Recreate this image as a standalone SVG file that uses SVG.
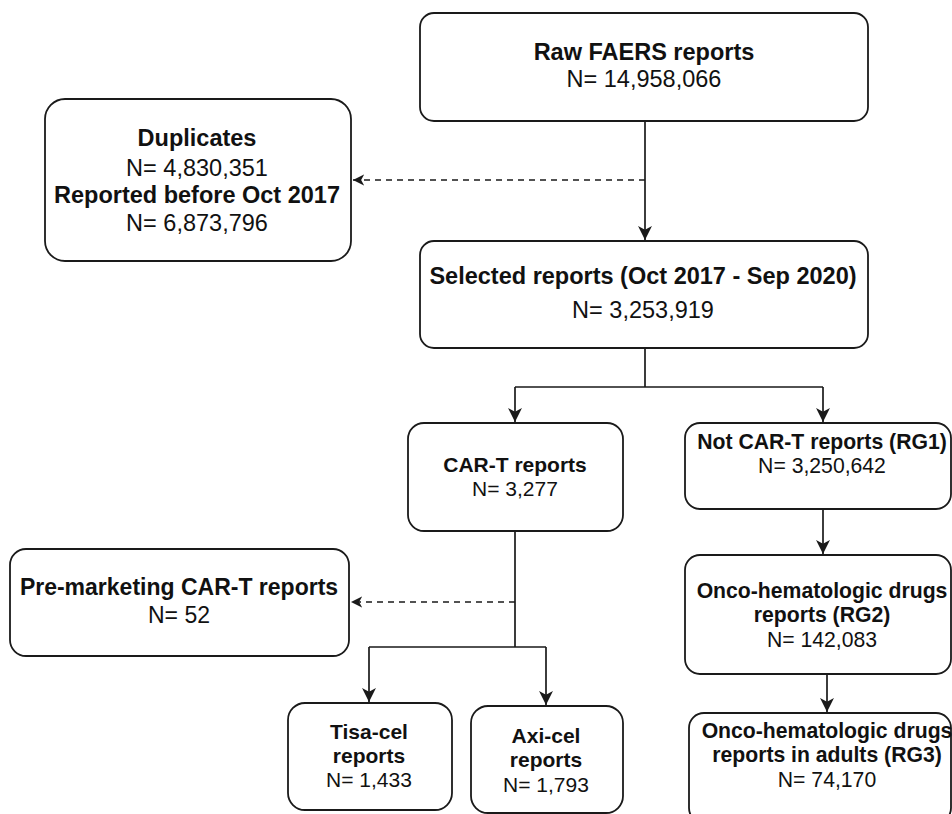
<svg xmlns="http://www.w3.org/2000/svg" width="952" height="814" viewBox="0 0 952 814">
<style>
.box{fill:#ffffff;stroke:#1a1a1a;stroke-width:1.8}
.t{font-family:"Liberation Sans",Arial,Helvetica,sans-serif;fill:#111;text-anchor:middle}
.b{font-weight:bold}
.ln{fill:none;stroke:#1a1a1a;stroke-width:1.7}
.dash{fill:none;stroke:#1a1a1a;stroke-width:1.5;stroke-dasharray:6 5}
</style>
<defs>
<marker id="arr" viewBox="0 0 14 14" refX="13" refY="7" markerWidth="15" markerHeight="15" markerUnits="userSpaceOnUse" orient="auto">
<path d="M0,0.5 L13,7 L0,13.5 L3.5,7 Z" fill="#1a1a1a"/>
</marker>
<marker id="arrs" viewBox="0 0 14 14" refX="13" refY="7" markerWidth="12" markerHeight="12" markerUnits="userSpaceOnUse" orient="auto">
<path d="M0,0.5 L13,7 L0,13.5 L3.5,7 Z" fill="#1a1a1a"/>
</marker>
</defs>
<rect width="952" height="814" fill="#ffffff"/>

<g id="connectors">
<path class="ln" d="M645,121 V240" marker-end="url(#arr)"/>
<path class="dash" d="M645,180 H353" marker-end="url(#arrs)"/>
<path class="ln" d="M645,348 V387 M515,387 H823"/>
<path class="ln" d="M515,387 V422" marker-end="url(#arr)"/>
<path class="ln" d="M823,387 V422" marker-end="url(#arr)"/>
<path class="ln" d="M515,531 V647 M369,647 H546"/>
<path class="ln" d="M369,647 V702" marker-end="url(#arr)"/>
<path class="ln" d="M546,647 V705" marker-end="url(#arr)"/>
<path class="dash" d="M515,602 H351" marker-end="url(#arrs)"/>
<path class="ln" d="M823,509 V554" marker-end="url(#arr)"/>
<path class="ln" d="M827,674 V712" marker-end="url(#arr)"/>
</g>

<g id="raw">
<rect class="box" x="420" y="13" width="448" height="108" rx="14"/>
<text class="t b" x="644" y="60" font-size="23.5">Raw FAERS reports</text>
<text class="t" x="644" y="87" font-size="23.5">N= 14,958,066</text>
</g>

<g id="excluded">
<rect class="box" x="45" y="99" width="306" height="162" rx="20"/>
<text class="t b" x="197" y="146" font-size="23.5">Duplicates</text>
<text class="t" x="197" y="176" font-size="23.5">N= 4,830,351</text>
<text class="t b" x="197" y="203" font-size="23.5">Reported before Oct 2017</text>
<text class="t" x="197" y="231" font-size="23.5">N= 6,873,796</text>
</g>

<g id="selected">
<rect class="box" x="420" y="241" width="448" height="107" rx="14"/>
<text class="t b" x="643" y="284" font-size="23.5">Selected reports (Oct 2017 - Sep 2020)</text>
<text class="t" x="643" y="318" font-size="23.5">N= 3,253,919</text>
</g>

<g id="cart">
<rect class="box" x="408" y="423" width="215" height="108" rx="16"/>
<text class="t b" x="515" y="472" font-size="21">CAR-T reports</text>
<text class="t" x="515" y="496" font-size="21">N= 3,277</text>
</g>

<g id="premarketing">
<rect class="box" x="10" y="549" width="339" height="107" rx="16"/>
<text class="t b" x="179" y="595" font-size="23">Pre-marketing CAR-T reports</text>
<text class="t" x="179" y="623" font-size="23">N= 52</text>
</g>

<g id="tisacel">
<rect class="box" x="288" y="703" width="164" height="107" rx="17"/>
<text class="t b" x="369" y="739" font-size="21">Tisa-cel</text>
<text class="t b" x="369" y="763" font-size="21">reports</text>
<text class="t" x="369" y="787" font-size="21">N= 1,433</text>
</g>

<g id="axicel">
<rect class="box" x="471" y="706" width="152" height="107" rx="17"/>
<text class="t b" x="546" y="743" font-size="21">Axi-cel</text>
<text class="t b" x="546" y="767" font-size="21">reports</text>
<text class="t" x="546" y="792" font-size="21">N= 1,793</text>
</g>

<g id="rg1">
<rect class="box" x="685" y="423" width="266" height="86" rx="15"/>
<text class="t b" x="822" y="449" font-size="21.2">Not CAR-T reports (RG1)</text>
<text class="t" x="822" y="473" font-size="21.2">N= 3,250,642</text>
</g>

<g id="rg2">
<rect class="box" x="685" y="555" width="266" height="119" rx="15"/>
<text class="t b" x="822" y="598" font-size="21.2">Onco-hematologic drugs</text>
<text class="t b" x="822" y="622" font-size="21.2">reports (RG2)</text>
<text class="t" x="822" y="647" font-size="21.2">N= 142,083</text>
</g>

<g id="rg3">
<rect class="box" x="689" y="713" width="262" height="110" rx="15"/>
<text class="t b" x="827" y="738" font-size="21.2">Onco-hematologic drugs</text>
<text class="t b" x="827" y="762" font-size="21.2">reports in adults (RG3)</text>
<text class="t" x="827" y="787" font-size="21.2">N= 74,170</text>
</g>
</svg>
